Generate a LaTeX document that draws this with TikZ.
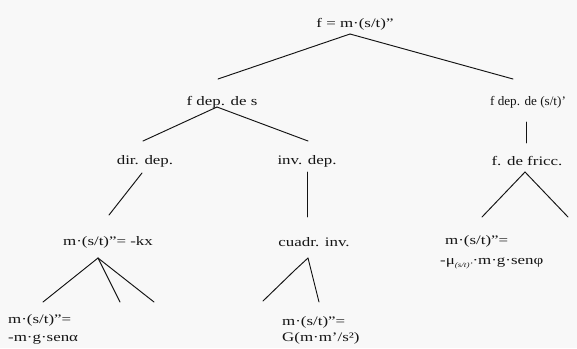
\documentclass[tikz,border=0pt]{standalone}
\usepackage{fontspec}
\setmainfont[FakeStretch=1.3]{Liberation Serif}
\definecolor{bgc}{RGB}{248,248,248}
\definecolor{ink}{RGB}{20,20,20}
\begin{document}
\begin{tikzpicture}[x=1bp,y=-1bp,
  lbl/.style={inner sep=0pt,text=ink,font=\fontsize{13bp}{15bp}\selectfont},
  leaf/.style={lbl,align=left,anchor=west},
  br/.style={draw=ink,line width=0.95bp,line cap=round,line join=round}]
\fill[bgc] (0,0) rectangle (577,348);
\useasboundingbox (0,0) rectangle (577,348);
% labels
\node[lbl] (top) at (355,24) {f = m·(s/t)”};
\node[lbl] (fdeps) at (222,102) {f dep. de s};
\node[lbl] (fdepv) at (528,102) {\scalebox{0.78}[1]{f dep. de (s/t)’}};
\node[lbl] (dir) at (145,161) {dir. dep.};
\node[lbl] (inv) at (307,161) {inv. dep.};
\node[lbl] (fric) at (527,161) {f. de fricc.};
\node[lbl] (kx) at (108,242) {m·(s/t)”= -kx};
\node[lbl] (cuad) at (314,242) {cuadr. inv.};
\node[leaf,font=\fontsize{13bp}{18bp}\selectfont] (leafa) at (8,329) {m·(s/t)”=\\-m·g·senα};
\node[leaf,font=\fontsize{13bp}{16bp}\selectfont] (leafb) at (282,330) {m·(s/t)”=\\G(m·m’/s²)};
\node[leaf,font=\fontsize{13bp}{20bp}\selectfont] (leafc) at (440,252) {\hspace*{5bp}m·(s/t)”=\\-μ\raisebox{-2.5bp}{\fontsize{7bp}{7bp}\selectfont\itshape (s/t)’}·m·g·senφ};
% branch points
\coordinate (t0) at (350,34);
\coordinate (t1) at (218,79);
\coordinate (t2) at (513,79);
\coordinate (s0) at (217,107);
\coordinate (s1) at (143,141);
\coordinate (s2) at (308,141);
\coordinate (v0) at (526,122);
\coordinate (v1) at (526,143);
\coordinate (d0) at (142,173);
\coordinate (d1) at (109,215);
\coordinate (i0) at (307,172);
\coordinate (i1) at (307,217);
\coordinate (f0) at (525,172);
\coordinate (f1) at (482,217);
\coordinate (f2) at (568,217);
\coordinate (k0) at (98,258);
\coordinate (k1) at (43,302);
\coordinate (k2) at (120,302);
\coordinate (k3) at (154,302);
\coordinate (c0) at (308,258);
\coordinate (cm) at (295,270);
\coordinate (c1) at (263,301);
\coordinate (c2) at (319,302);
% connectors
\draw[br] (t0) -- (t1);
\draw[br] (t0) -- (t2);
\draw[br] (s0) -- (s1);
\draw[br] (s0) -- (s2);
\draw[br] (v0) -- (v1);
\draw[br] (d0) -- (d1);
\draw[br] (i0) -- (i1);
\draw[br] (f0) -- (f1);
\draw[br] (f0) -- (f2);
\draw[br] (k0) -- (k1);
\draw[br] (k0) -- (k2);
\draw[br] (k0) -- (k3);
\draw[br] (c0) -- (cm) -- (c1);
\draw[br] (c0) -- (c2);
\end{tikzpicture}
\end{document}
